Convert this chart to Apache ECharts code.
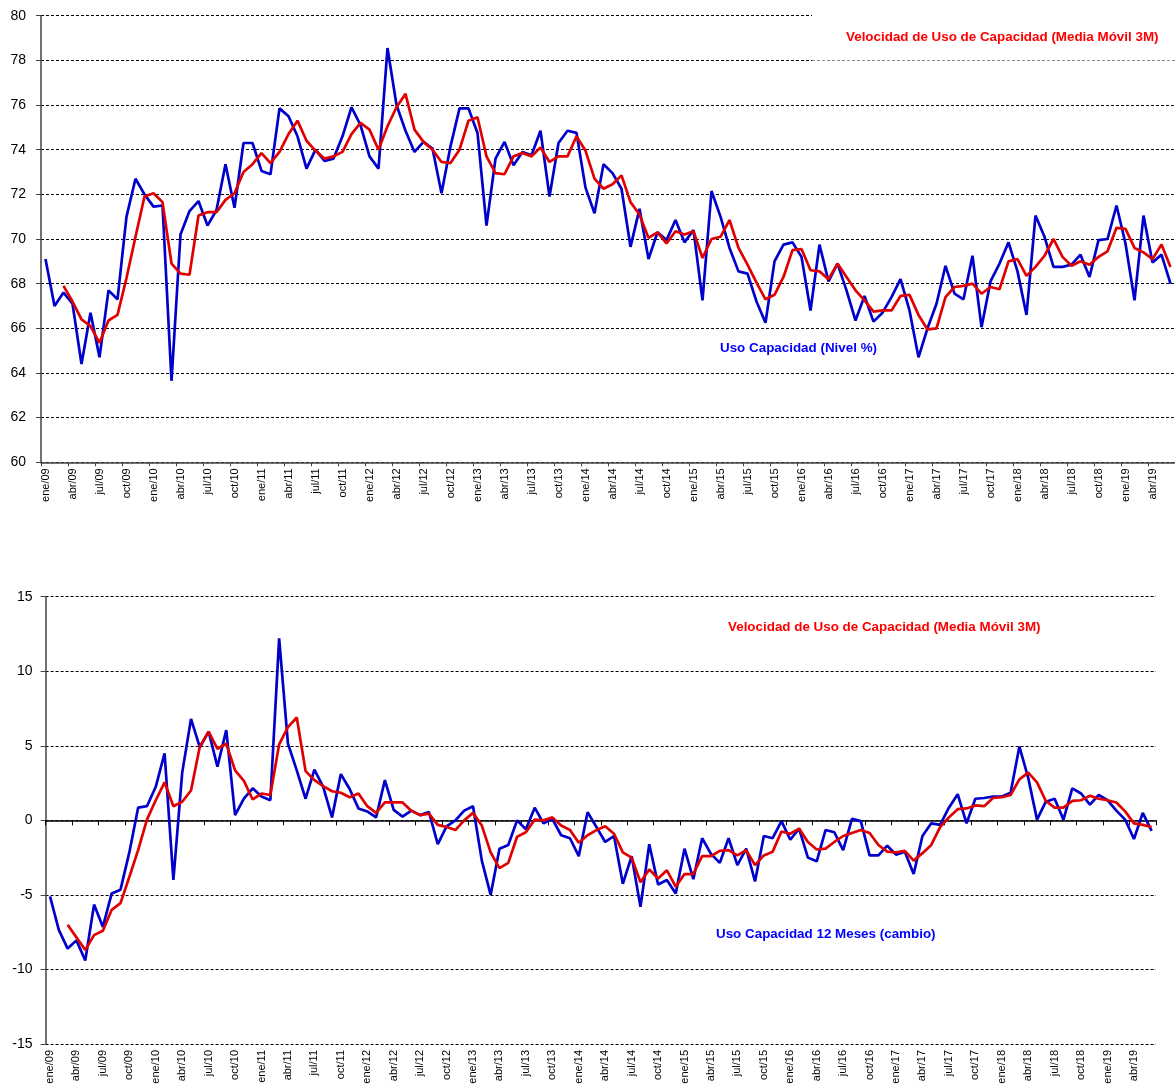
<!DOCTYPE html>
<html>
<head>
<meta charset="utf-8">
<script src="https://cdn.jsdelivr.net/npm/echarts@6/dist/echarts.min.js"></script>
<style>
  body { margin: 0; background: #fff; }
  #grafik { width: 1175px; height: 1087px; }
</style>
</head>
<body>
<div id="grafik"></div>
<script>
var meses = ['ene', 'feb', 'mar', 'abr', 'may', 'jun', 'jul', 'ago', 'sep', 'oct', 'nov', 'dic'];
var anios = ['09', '10', '11', '12', '13', '14', '15', '16', '17', '18', '19'];
var totalMeses = 126; // ene/09 .. jun/19

var kategori = [];
for (var a = 0; a < anios.length; a++) {
  for (var m = 0; m < 12; m++) {
    if (kategori.length < totalMeses) kategori.push(meses[m] + '/' + anios[a]);
  }
}

var ticksNivel = [60, 80, 2];
var ticksCambio = [-15, 15, 5];

// Uso Capacidad (Nivel %)
var usoNivel = [
  69.1, 67.0, 67.6, 67.1, 64.4, 66.7, 64.7, 67.7, 67.3, 71.0, 72.7, 72.0,
  71.45, 71.5, 63.65, 70.2, 71.25, 71.7, 70.6, 71.3, 73.35, 71.4, 74.3, 74.3,
  73.05, 72.9, 75.85, 75.5, 74.6, 73.15, 74.0, 73.5, 73.6, 74.6, 75.9, 75.1,
  73.7, 73.15, 78.55, 76.0, 74.85, 73.9, 74.35, 74.05, 72.05, 74.15, 75.85, 75.85,
  74.75, 70.6, 73.6, 74.35, 73.3, 73.9, 73.75, 74.85, 71.9, 74.3, 74.85, 74.75,
  72.3, 71.15, 73.35, 72.95, 72.25, 69.65, 71.35, 69.1, 70.3, 69.95, 70.85, 69.85,
  70.4, 67.25, 72.15, 71.0, 69.6, 68.55, 68.45, 67.2, 66.25, 69.0, 69.75, 69.85,
  69.2, 66.8, 69.75, 68.1, 68.9, 67.7, 66.35, 67.45, 66.3, 66.7, 67.4, 68.2,
  66.8, 64.7, 66.0, 67.1, 68.8, 67.55, 67.3, 69.25, 66.05, 68.1, 68.9, 69.85,
  68.55, 66.6, 71.05, 70.1, 68.75, 68.75, 68.85, 69.3, 68.3, 69.95, 70.0, 71.5,
  69.8, 67.25, 71.05, 68.95, 69.3, 68.0
];

// Velocidad de Uso de Capacidad (Media Movil 3M) - nivel
var velNivel = [
  null, null, 67.9, 67.2, 66.4, 66.1, 65.35, 66.35, 66.6, 68.25, 70.1, 71.9,
  72.05, 71.65, 68.9, 68.45, 68.4, 71.05, 71.2, 71.2, 71.75, 72.05, 73.0, 73.35,
  73.85, 73.4, 73.9, 74.7, 75.3, 74.4, 73.95, 73.6, 73.7, 73.9, 74.7, 75.2,
  74.9, 74.0, 75.05, 75.9, 76.5, 74.9, 74.35, 74.0, 73.45, 73.4, 74.0, 75.3,
  75.45, 73.7, 72.95, 72.9, 73.7, 73.85, 73.7, 74.1, 73.45, 73.7, 73.7, 74.6,
  73.95, 72.7, 72.25, 72.45, 72.85, 71.65, 71.1, 70.05, 70.3, 69.8, 70.35, 70.2,
  70.35, 69.15, 70.0, 70.1, 70.85, 69.6, 68.85, 68.05, 67.3, 67.5, 68.3, 69.5,
  69.55, 68.6, 68.55, 68.2, 68.9, 68.3, 67.7, 67.25, 66.75, 66.8, 66.8, 67.45,
  67.5, 66.6, 65.95, 66.0, 67.4, 67.85, 67.9, 68.0, 67.55, 67.85, 67.75, 69.0,
  69.1, 68.35, 68.75, 69.25, 70.0, 69.2, 68.8, 69.0, 68.85, 69.2, 69.45, 70.5,
  70.45, 69.6, 69.4, 69.1, 69.75, 68.75
];

// Uso Capacidad 12 Meses (cambio)
var usoCambio = [
  -5.1, -7.35, -8.6, -8.05, -9.4, -5.65, -7.15, -4.9, -4.65, -2.15, 0.85, 0.95,
  2.25, 4.5, -4.0, 3.2, 6.8, 4.9, 5.95, 3.6, 6.05, 0.35, 1.45, 2.15,
  1.6, 1.35, 12.2, 5.15, 3.35, 1.45, 3.4, 2.25, 0.2, 3.1, 2.1, 0.8,
  0.6, 0.2, 2.7, 0.7, 0.25, 0.65, 0.35, 0.55, -1.6, -0.4, 0.0, 0.65,
  0.95, -2.7, -5.0, -1.9, -1.65, 0.0, -0.6, 0.85, -0.2, 0.1, -1.0, -1.2,
  -2.4, 0.55, -0.45, -1.45, -1.05, -4.25, -2.4, -5.8, -1.6, -4.3, -4.0, -4.9,
  -1.9, -3.95, -1.2, -2.25, -2.85, -1.2, -3.0, -1.9, -4.1, -1.05, -1.2, -0.05,
  -1.3, -0.55, -2.5, -2.75, -0.65, -0.8, -2.0, 0.1, -0.05, -2.35, -2.35, -1.7,
  -2.3, -2.1, -3.6, -1.05, -0.2, -0.3, 0.85, 1.75, -0.2, 1.45, 1.5, 1.6,
  1.6, 1.85, 4.95, 2.85, 0.05, 1.25, 1.45, 0.05, 2.15, 1.8, 1.05, 1.7,
  1.35, 0.65, 0.05, -1.25, 0.5, -0.7
];

// Velocidad de Uso de Capacidad (Media Movil 3M) - cambio
var velCambio = [
  null, null, -7.0, -7.85, -8.7, -7.7, -7.4, -6.0, -5.55, -3.8, -2.0, 0.05,
  1.35, 2.55, 0.95, 1.25, 2.0, 4.95, 5.95, 4.8, 5.15, 3.35, 2.65, 1.4,
  1.8, 1.7, 5.1, 6.25, 6.9, 3.3, 2.7, 2.3, 1.95, 1.85, 1.55, 1.8,
  0.95, 0.5, 1.2, 1.2, 1.2, 0.65, 0.35, 0.45, -0.3, -0.45, -0.65, 0.0,
  0.5, -0.35, -2.15, -3.2, -2.85, -1.1, -0.8, 0.05, 0.0, 0.2, -0.35, -0.65,
  -1.5, -1.0, -0.65, -0.4, -0.9, -2.15, -2.5, -4.15, -3.3, -3.9, -3.35, -4.45,
  -3.6, -3.6, -2.4, -2.4, -2.05, -2.0, -2.35, -2.0, -3.0, -2.35, -2.1, -0.75,
  -0.9, -0.55, -1.45, -1.95, -1.9, -1.45, -1.05, -0.85, -0.65, -0.85, -1.65, -2.1,
  -2.15, -2.05, -2.7, -2.2, -1.65, -0.45, 0.2, 0.75, 0.8, 1.0, 0.95, 1.5,
  1.55, 1.7, 2.75, 3.2, 2.55, 1.3, 0.85, 0.85, 1.3, 1.35, 1.65, 1.45,
  1.35, 1.2, 0.6, -0.2, -0.3, -0.45
];

var fuente = '"Liberation Sans", Arial, sans-serif';
var azulLinea = '#0000cc';
var rojoLinea = '#e00000';

var myChart = echarts.init(document.getElementById('grafik'));

function ejeX(grid, conEtiqueta) {
  return {
    type: 'category',
    gridIndex: grid,
    data: kategori,
    boundaryGap: true,
    position: 'bottom',
    axisLine: { show: false, onZero: false },
    axisTick: { show: false },
    axisLabel: {
      show: conEtiqueta,
      interval: 2,
      rotate: 90,
      margin: 6,
      fontSize: 11,
      fontFamily: fuente,
      color: '#000'
    },
    splitLine: { show: false }
  };
}

function ejeY(grid, t, margen) {
  return {
    type: 'value',
    gridIndex: grid,
    min: t[0],
    max: t[1],
    interval: t[2],
    axisLine: { show: true, lineStyle: { color: '#444', width: 1.5 } },
    axisTick: { show: true, length: 5, lineStyle: { color: '#444' } },
    axisLabel: { margin: margen, fontSize: 14, fontFamily: fuente, color: '#000' },
    splitLine: { show: true, lineStyle: { color: '#000', type: [3, 2], width: 1 } }
  };
}

var ejeNivel = ejeX(0, true);
ejeNivel.axisLine = { show: true, onZero: false, lineStyle: { color: '#444', width: 1.5 } };
ejeNivel.axisTick = { show: true, interval: 2, length: 4, lineStyle: { color: '#444' } };

// linea de cero con ticks (grafico inferior)
var ejeCero = ejeX(1, false);
ejeCero.axisLine = { show: true, onZero: true, lineStyle: { color: '#000', width: 1.5 } };
ejeCero.axisTick = { show: true, interval: 2, length: 5, lineStyle: { color: '#000' } };

function serie(nombre, datos, color, idx) {
  return {
    name: nombre,
    type: 'line',
    xAxisIndex: idx,
    yAxisIndex: idx,
    data: datos,
    symbol: 'none',
    connectNulls: false,
    lineStyle: { color: color, width: 2.7 },
    itemStyle: { color: color },
    z: color === rojoLinea ? 3 : 2
  };
}

function texto(x, y, t, color) {
  return {
    type: 'text',
    x: x,
    y: y,
    z: 10,
    style: {
      text: t,
      fill: color,
      font: 'bold 13.4px ' + fuente,
      textAlign: 'left',
      textVerticalAlign: 'middle'
    }
  };
}

var option = {
  animation: false,
  backgroundColor: '#fff',
  grid: [
    { left: 41, top: 15.7, right: -7, height: 446.6, containLabel: false },
    { left: 45.6, top: 596.7, right: 19, height: 447.3, containLabel: false }
  ],
  xAxis: [ejeNivel, ejeX(1, true), ejeCero],
  yAxis: [ejeY(0, ticksNivel, 15), ejeY(1, ticksCambio, 13)],
  series: [
    serie('Uso Capacidad (Nivel %)', usoNivel, azulLinea, 0),
    serie('Velocidad de Uso de Capacidad (Media Móvil 3M)', velNivel, rojoLinea, 0),
    serie('Uso Capacidad 12 Meses (cambio)', usoCambio, azulLinea, 1),
    serie('Velocidad de Uso de Capacidad (Media Móvil 3M)', velCambio, rojoLinea, 1)
  ],
  graphic: [
    // caja blanca del rotulo superior (tapa la linea de 80)
    { type: 'rect', z: 1, shape: { x: 812, y: 8, width: 370, height: 54 }, style: { fill: '#fff' } },
    { type: 'line', z: 1.5, shape: { x1: 812, y1: 60.5, x2: 1175, y2: 60.5 }, style: { stroke: '#888', lineWidth: 1, lineDash: [3, 2] } },
    texto(846, 37, 'Velocidad de Uso de Capacidad (Media Móvil 3M)', '#ff0000'),
    texto(720, 348, 'Uso Capacidad (Nivel %)', '#0000ff'),
    texto(728, 627, 'Velocidad de Uso de Capacidad (Media Móvil 3M)', '#ff0000'),
    texto(716, 934, 'Uso Capacidad 12 Meses (cambio)', '#0000ff')
  ]
};

// 使用刚指定的配置项和数据显示图表。
myChart.setOption(option);
</script>
</body>
</html>
